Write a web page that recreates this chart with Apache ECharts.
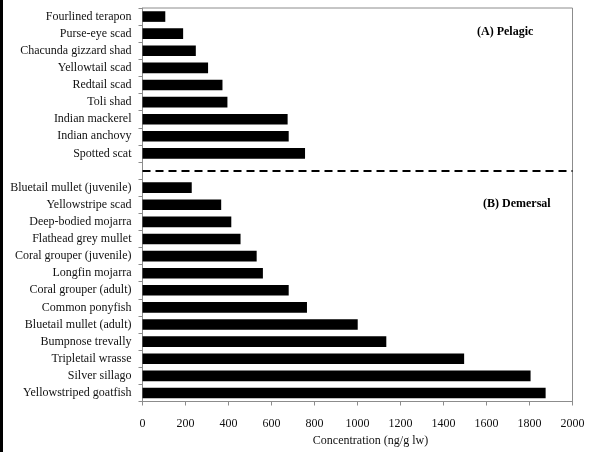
<!DOCTYPE html>
<html>
<head>
<meta charset="utf-8">
<script src="https://cdn.jsdelivr.net/npm/echarts@6/dist/echarts.min.js"></script>
<style>
  html, body { margin: 0; padding: 0; background: #fff; }
  #chart { width: 590px; height: 452px; }
</style>
</head>
<body>
<div id="chart"></div>
<script>
// Pelagic species, listed top to bottom
const pelagicSpecies = [
  'Fourlined terapon', 'Purse-eye scad', 'Chacunda gizzard shad', 'Yellowtail scad',
  'Redtail scad', 'Toli shad', 'Indian mackerel', 'Indian anchovy', 'Spotted scat'
];
const pelagicValues = [106, 189, 248, 305, 372, 395, 675, 680, 756];

// Demersal species, listed top to bottom
const demersalSpecies = [
  'Bluetail mullet (juvenile)', 'Yellowstripe scad', 'Deep-bodied mojarra', 'Flathead grey mullet',
  'Coral grouper (juvenile)', 'Longfin mojarra', 'Coral grouper (adult)', 'Common ponyfish',
  'Bluetail mullet (adult)', 'Bumpnose trevally', 'Tripletail wrasse', 'Silver sillago',
  'Yellowstriped goatfish'
];
const demersalValues = [229, 366, 413, 456, 531, 560, 680, 765, 1001, 1134, 1496, 1805, 1875];

const groupLabels = ['(A) Pelagic', '(B) Demersal'];
const axisTitle = 'Concentration (ng/g lw)';

// One empty slot separates the two groups
const categories = pelagicSpecies.concat([''], demersalSpecies);
const values = pelagicValues.concat(['-'], demersalValues);
const gapIndex = pelagicSpecies.length;

const serif = '"Liberation Serif", "DejaVu Serif", serif';
const axisGrey = '#8c8c8c';

const chart = echarts.init(document.getElementById('chart'), null, { renderer: 'canvas' });
chart.setOption({
  animation: false,
  backgroundColor: '#fff',
  grid: {
    left: 142.5, right: 17.5, top: 8, bottom: 50.5,
    show: true, borderColor: axisGrey, borderWidth: 1, backgroundColor: 'transparent'
  },
  xAxis: {
    type: 'value',
    min: 0, max: 2000, interval: 200,
    splitLine: { show: false },
    axisLine: { show: true, lineStyle: { color: axisGrey, width: 1 } },
    axisTick: { show: true, length: 4, lineStyle: { color: axisGrey } },
    axisLabel: {
      color: '#111', fontFamily: serif, fontSize: 12, margin: 16,
      formatter: function (v) { return String(v); }
    },
    name: axisTitle,
    nameLocation: 'middle',
    nameGap: 32,
    nameTextStyle: { color: '#111', fontFamily: serif, fontSize: 12, padding: [0, 0, 0, 26] }
  },
  yAxis: {
    type: 'category',
    data: categories,
    inverse: true,
    axisLine: { show: true, lineStyle: { color: axisGrey, width: 1 } },
    axisTick: { show: true, length: 4, lineStyle: { color: axisGrey } },
    axisLabel: { color: '#111', fontFamily: serif, fontSize: 12, margin: 11 },
    splitLine: { show: false }
  },
  series: [{
    type: 'bar',
    data: values,
    barCategoryGap: '38%',
    itemStyle: { color: '#000' },
    markLine: {
      silent: true,
      symbol: 'none',
      label: { show: false },
      lineStyle: { color: '#000', width: 2, type: [8, 5] },
      data: [{ yAxis: gapIndex }]
    }
  }],
  graphic: [
    { type: 'rect', left: 0, top: 0, shape: { width: 3, height: 452 }, style: { fill: '#000' } },
    { type: 'text', left: 477, top: 26,
      style: { text: groupLabels[0], fill: '#000', font: 'bold 12px ' + serif } },
    { type: 'text', left: 483, top: 198,
      style: { text: groupLabels[1], fill: '#000', font: 'bold 12px ' + serif } }
  ]
});
</script>
</body>
</html>
